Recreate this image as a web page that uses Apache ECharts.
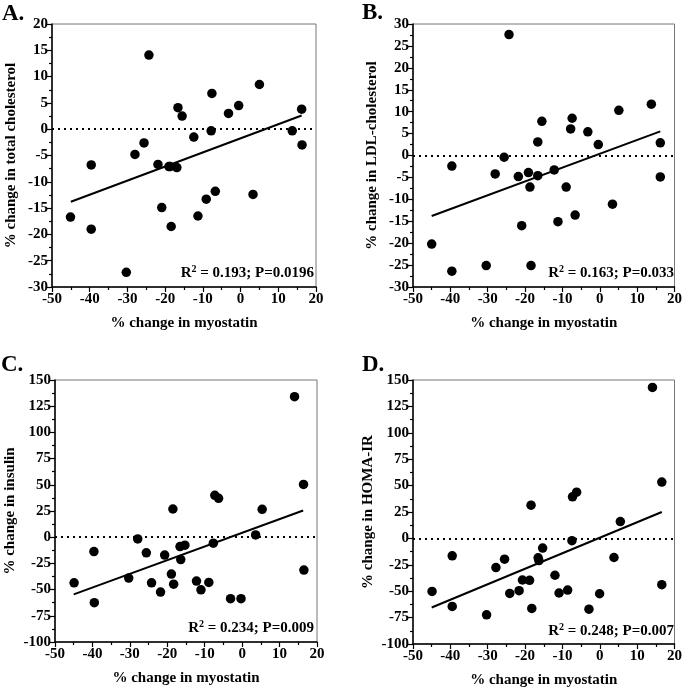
<!DOCTYPE html>
<html>
<head>
<meta charset="utf-8">
<script src="https://cdn.jsdelivr.net/npm/echarts@6/dist/echarts.min.js"></script>
<style>html,body{margin:0;padding:0;background:#fff;}#c{width:685px;height:691px;}</style>
</head>
<body>
<div id="c"></div>
<script>
// ---- data ----
const panelLabels = ['A.', 'B.', 'C.', 'D.'];
const yTitles = ['% change in total cholesterol', '% change in LDL-cholesterol', '% change in insulin', '% change in HOMA-IR'];
const xTitle = '% change in myostatin';
const statsR2 = ['0.193', '0.163', '0.234', '0.248'];
const statsP = ['0.0196', '0.033', '0.009', '0.007'];
const xRange = [-50, 20];
const xInterval = 10;
const yRanges = [[-30, 20], [-30, 30], [-100, 150], [-100, 150]];
const yIntervals = [5, 5, 25, 25];

const pointsA = [
  [-45.1, -16.7], [-39.6, -6.8], [-39.6, -19.0], [-30.3, -27.2], [-28.0, -4.8], [-25.6, -2.6],
  [-24.3, 14.1], [-21.9, -6.7], [-20.9, -14.9], [-19.0, -7.1], [-18.7, -7.1], [-18.4, -18.5],
  [-16.9, -7.3], [-16.6, 4.1], [-15.5, 2.5], [-12.4, -1.5], [-11.3, -16.5], [-9.1, -13.3],
  [-7.8, -0.3], [-7.6, 6.8], [-6.7, -11.8], [-3.2, 3.0], [-0.5, 4.5], [3.3, -12.4],
  [5.0, 8.5], [13.7, -0.3], [16.2, 3.8], [16.3, -3.0]
];
const pointsB = [
  [-45.0, -20.2], [-39.6, -2.4], [-39.6, -26.4], [-30.4, -25.1], [-28.0, -4.2], [-25.6, -0.4],
  [-24.3, 27.6], [-21.8, -4.8], [-20.9, -16.0], [-19.1, -3.9], [-18.7, -7.2], [-18.4, -25.1],
  [-16.6, -4.6], [-16.6, 3.1], [-15.5, 7.8], [-12.2, -3.3], [-11.2, -15.1], [-9.0, -7.2],
  [-7.8, 6.05], [-7.4, 8.5], [-6.6, -13.6], [-3.2, 5.4], [-0.4, 2.5], [3.4, -11.1],
  [5.1, 10.3], [13.8, 11.7], [16.2, 2.9], [16.2, -4.9]
];
const pointsC = [
  [-44.9, -43.5], [-39.6, -13.7], [-39.5, -62.5], [-30.3, -39.0], [-27.9, -1.6], [-25.6, -14.9],
  [-24.2, -43.5], [-21.8, -52.4], [-20.7, -17.1], [-18.9, -35.2], [-18.5, 26.9], [-18.3, -44.8],
  [-16.6, -8.9], [-16.4, -21.3], [-15.3, -7.6], [-12.2, -41.9], [-11.0, -50.2], [-8.9, -43.2],
  [-7.7, -5.7], [-7.3, 40.0], [-6.3, 37.1], [-3.1, -58.7], [-0.3, -58.7], [3.6, 2.2],
  [5.35, 26.6], [14.0, 134.1], [16.4, 50.4], [16.5, -31.4]
];
const pointsD = [
  [-44.9, -50.2], [-39.5, -16.5], [-39.5, -64.4], [-30.3, -72.4], [-27.8, -27.6], [-25.5, -19.7],
  [-24.1, -52.1], [-21.6, -49.5], [-20.7, -39.4], [-18.8, -39.7], [-18.4, 31.5], [-18.2, -66.3],
  [-16.5, -18.4], [-16.3, -21.0], [-15.3, -9.2], [-12.0, -34.9], [-10.9, -51.7], [-8.6, -48.9],
  [-7.45, -2.2], [-7.3, 39.4], [-6.2, 43.8], [-2.9, -67.0], [-0.05, -52.4], [3.8, -18.1],
  [5.5, 15.9], [14.1, 143.0], [16.6, 53.3], [16.6, -43.8]
];
const fitA = [[-45.0, -13.8], [16.2, 2.6]];
const fitB = [[-45.0, -13.8], [16.2, 5.5]];
const fitC = [[-45.0, -54.5], [16.3, 25.5]];
const fitD = [[-45.0, -65.4], [16.6, 25.0]];

const allPoints = [pointsA, pointsB, pointsC, pointsD];
const allFits = [fitA, fitB, fitC, fitD];

// ---- layout ----
const grids = [
  {left: 52, top: 24, width: 264, height: 263},
  {left: 413, top: 24, width: 264, height: 263},
  {left: 55, top: 380, width: 262, height: 262},
  {left: 413, top: 380, width: 264, height: 264}
];
const FONT = '"Liberation Serif", "Times New Roman", serif';

const option = {
  animation: false,
  backgroundColor: '#fff',
  grid: grids.map(g => Object.assign({show: true, borderColor: '#777', borderWidth: 1, backgroundColor: 'transparent'}, g)),
  xAxis: grids.map((g, i) => ({
    gridIndex: i, type: 'value', min: xRange[0], max: xRange[1], interval: xInterval,
    name: xTitle, nameLocation: 'middle', nameGap: 29,
    nameTextStyle: {fontFamily: FONT, fontWeight: 'bold', fontSize: 15, color: '#000'},
    axisLine: {show: true, onZero: false, lineStyle: {color: '#000', width: 1.5}},
    axisTick: {show: true, length: 5, lineStyle: {color: '#000', width: 1.2}},
    minorTick: {show: true, splitNumber: 2, length: 3, lineStyle: {color: '#000', width: 1.2}},
    splitLine: {show: false},
    axisLabel: {fontFamily: FONT, fontWeight: 'bold', fontSize: 15, color: '#000', margin: 5}
  })),
  yAxis: grids.map((g, i) => ({
    gridIndex: i, type: 'value', min: yRanges[i][0], max: yRanges[i][1], interval: yIntervals[i],
    name: yTitles[i], nameLocation: 'middle', nameGap: i < 2 ? 33 : 37, nameRotate: 90,
    nameTextStyle: {fontFamily: FONT, fontWeight: 'bold', fontSize: 15, color: '#000'},
    axisLine: {show: true, onZero: false, lineStyle: {color: '#000', width: 1.5}},
    axisTick: {show: true, length: 5, lineStyle: {color: '#000', width: 1.2}},
    minorTick: {show: true, splitNumber: 2, length: 3, lineStyle: {color: '#000', width: 1.2}},
    splitLine: {show: false},
    axisLabel: {fontFamily: FONT, fontWeight: 'bold', fontSize: 15, color: '#000', margin: 4}
  })),
  series: []
};

allPoints.forEach((pts, i) => {
  option.series.push({
    type: 'scatter', xAxisIndex: i, yAxisIndex: i, data: pts, symbol: 'circle', symbolSize: 9.5,
    itemStyle: {color: '#000', opacity: 1}, z: 3,
    markLine: {
      silent: true, symbol: ['none', 'none'], label: {show: false},
      lineStyle: {color: '#000', type: [2, 4], width: 2, opacity: 1},
      data: [{yAxis: 0}]
    }
  });
  option.series.push({
    type: 'line', xAxisIndex: i, yAxisIndex: i, data: allFits[i], symbol: 'none',
    lineStyle: {color: '#000', width: 2}, z: 4
  });
});

const labelPos = [[2, 3], [362, 2], [1, 354], [362, 354]];
const statPos = [[314, 273], [674, 273], [314, 628], [674, 631]];
option.graphic = [];
panelLabels.forEach((t, i) => {
  option.graphic.push({
    type: 'text', left: labelPos[i][0], top: labelPos[i][1],
    style: {text: t, font: 'bold 23px ' + FONT, fill: '#000'}
  });
  option.graphic.push({
    type: 'text', x: statPos[i][0], y: statPos[i][1],
    style: {
      text: '{a|R}{s|2}{a| = ' + statsR2[i] + '; P=' + statsP[i] + '}',
      align: 'right', verticalAlign: 'middle',
      rich: {
        a: {fontFamily: FONT, fontWeight: 'bold', fontSize: 15, color: '#000'},
        s: {fontFamily: FONT, fontWeight: 'bold', fontSize: 10, color: '#000', verticalAlign: 'top', padding: [0, 0, 8, 0]}
      }
    }
  });
});

const chart = echarts.init(document.getElementById('c'), null, {renderer: 'canvas'});
chart.setOption(option);
</script>
</body>
</html>
